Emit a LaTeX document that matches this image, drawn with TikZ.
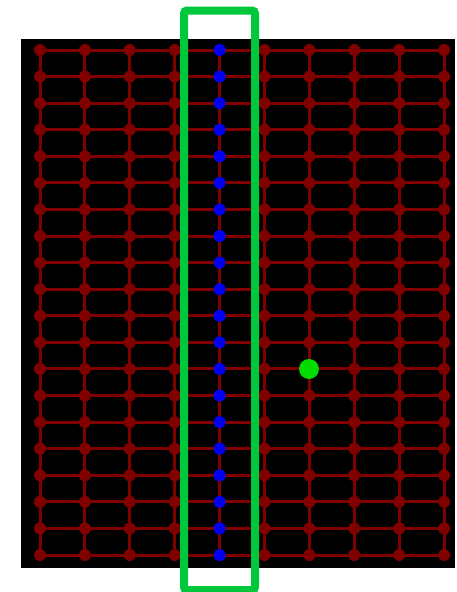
\documentclass[tikz,border=0pt]{standalone}
\pgfdeclarelayer{bg}
\pgfdeclarelayer{edges}
\pgfsetlayers{bg,edges,main}
\definecolor{gridred}{RGB}{128,0,0}
\definecolor{dotblue}{RGB}{0,0,240}
\definecolor{dotgreen}{RGB}{0,220,0}
\definecolor{framegreen}{RGB}{0,200,60}
\tikzset{
  gnode/.style={circle, fill=gridred, inner sep=0pt, minimum size=12pt},
  bnode/.style={circle, fill=dotblue, inner sep=0pt, minimum size=12pt},
  target/.style={circle, fill=dotgreen, inner sep=0pt, minimum size=20pt},
  gedge/.style={draw=gridred, line width=3pt},
  frame/.style={draw=framegreen, line width=8pt, rounded corners=3pt, minimum width=71pt, minimum height=579.5pt, inner sep=0pt}
}
\begin{document}
\begin{tikzpicture}[x=1pt,y=-1pt]
\useasboundingbox (0,0) rectangle (456,592);
\begin{pgfonlayer}{bg}
\fill[white] (0,0) rectangle (456,592);
\fill[black] (21,39) rectangle (455,568);
\end{pgfonlayer}
\foreach \i in {0,...,9}{
  \foreach \j in {0,...,19}{
    \pgfmathsetmacro{\xx}{40+44.9*\i}
    \pgfmathsetmacro{\yy}{50+26.58*\j}
    \ifnum\i=4
      \node[bnode] (n-\i-\j) at (\xx,\yy) {};
    \else
      \node[gnode] (n-\i-\j) at (\xx,\yy) {};
    \fi
  }
}
\begin{pgfonlayer}{edges}
\foreach \i in {0,...,9}{
  \foreach \j [evaluate=\j as \jn using int(\j+1)] in {0,...,18}{
    \draw[gedge] (n-\i-\j.center) -- (n-\i-\jn.center);
  }
}
\foreach \j in {0,...,19}{
  \foreach \i [evaluate=\i as \in using int(\i+1)] in {0,...,8}{
    \draw[gedge] (n-\i-\j.center) -- (n-\in-\j.center);
  }
}
\end{pgfonlayer}
\node[target] (goal) at (309,369) {};
\node[frame] (sel) at (219.5,300.25) {};
\end{tikzpicture}
\end{document}
